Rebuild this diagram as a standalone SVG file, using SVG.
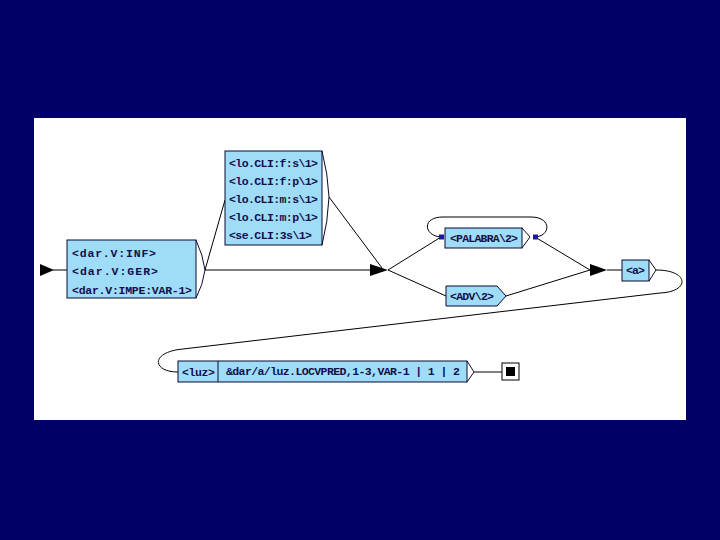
<svg xmlns="http://www.w3.org/2000/svg" width="720" height="540" viewBox="0 0 720 540">
<defs>
<style>
.box{fill:#9fdcf8;stroke:#0a0a30;stroke-width:1}
.br{fill:none;stroke:#0a0a30;stroke-width:1}
.ln{fill:none;stroke:#000;stroke-width:1}
.t{font-family:"Liberation Mono","DejaVu Sans Mono",monospace;font-weight:bold;font-size:11.5px;fill:#10104a}
.arr{fill:#000}
.sq{fill:#1a1aa0}
</style>
</defs>
<rect x="0" y="0" width="720" height="540" fill="#000066"/>
<rect x="34" y="118" width="652" height="302" fill="#fff"/>
<g id="connectors">
<line class="ln" x1="53" y1="270" x2="67" y2="270"/>
<line class="ln" x1="205" y1="270" x2="370" y2="270"/>
<line class="ln" x1="205" y1="270" x2="225" y2="200"/>
<line class="ln" x1="329" y1="197" x2="382" y2="268"/>
<line class="ln" x1="388" y1="270" x2="441" y2="237"/>
<line class="ln" x1="388" y1="270" x2="446" y2="296"/>
<line class="ln" x1="535" y1="237" x2="590" y2="270"/>
<line class="ln" x1="506" y1="296" x2="590" y2="270"/>
<line class="ln" x1="607" y1="270" x2="622" y2="270"/>
<path class="ln" d="M441,237 C424,236 421,217 443,217 L531,217 C552,217 551,236 535,237"/>
<path class="ln" d="M656,270 C690,270 690,292 660,293 L183,349 C150,352 152,372 178,372"/>
<line class="ln" x1="474" y1="372" x2="502" y2="372"/>
</g>
<g id="initial">
<polygon class="arr" points="40,264 54,270 40,276"/>
</g>
<g id="n1">
<rect class="box" x="67" y="240" width="129" height="58"/>
<path class="br" d="M196,240 Q203,255 205,270 Q203,285 196,298"/>
<text class="t" x="72" y="257" textLength="84">&lt;dar.V:INF&gt;</text>
<text class="t" x="72" y="275" textLength="86">&lt;dar.V:GER&gt;</text>
<text class="t" x="72" y="294" textLength="120">&lt;dar.V:IMPE:VAR-1&gt;</text>
</g>
<g id="n2">
<rect class="box" x="225" y="151" width="97" height="94"/>
<path class="br" d="M322,151 Q328,174 329,197 Q328,222 322,245"/>
<text class="t" x="229" y="167" textLength="89">&lt;lo.CLI:f:s\1&gt;</text>
<text class="t" x="229" y="185" textLength="89">&lt;lo.CLI:f:p\1&gt;</text>
<text class="t" x="229" y="203" textLength="89">&lt;lo.CLI:m:s\1&gt;</text>
<text class="t" x="229" y="221" textLength="89">&lt;lo.CLI:m:p\1&gt;</text>
<text class="t" x="229" y="239" textLength="83">&lt;se.CLI:3s\1&gt;</text>
</g>
<g id="arrow2">
<polygon class="arr" points="370,264 388,270 370,276"/>
</g>
<g id="n3">
<rect class="box" x="445" y="228" width="77" height="20"/>
<path class="br" d="M522,228 L530,237 L522,248"/>
<rect class="sq" x="439" y="234.5" width="5" height="5"/>
<rect class="sq" x="533" y="234.5" width="5" height="5"/>
<text class="t" x="450" y="242" textLength="68">&lt;PALABRA\2&gt;</text>
</g>
<g id="n4">
<path class="box" d="M446,286 L497,286 L506,296 L497,306 L446,306 Z"/>
<text class="t" x="450" y="300" textLength="44">&lt;ADV\2&gt;</text>
</g>
<g id="arrow3">
<polygon class="arr" points="590,264 607,270 590,276"/>
</g>
<g id="n5">
<rect class="box" x="622" y="260" width="27" height="21"/>
<path class="br" d="M649,260 L656,270 L649,281"/>
<text class="t" x="626" y="274" textLength="19">&lt;a&gt;</text>
</g>
<g id="n6">
<rect class="box" x="178" y="361" width="289" height="21"/>
<line class="br" x1="218" y1="361" x2="218" y2="382"/>
<path class="br" d="M467,361 L474,372 L467,382"/>
<text class="t" x="182" y="376" textLength="33">&lt;luz&gt;</text>
<text class="t" x="226" y="375" textLength="234">&amp;dar/a/luz.LOCVPRED,1-3,VAR-1 | 1 | 2</text>
</g>
<g id="final">
<rect x="502" y="363" width="17" height="17" fill="#fff" stroke="#000" stroke-width="1"/>
<rect x="506" y="367" width="9" height="9" fill="#000"/>
</g>
</svg>
